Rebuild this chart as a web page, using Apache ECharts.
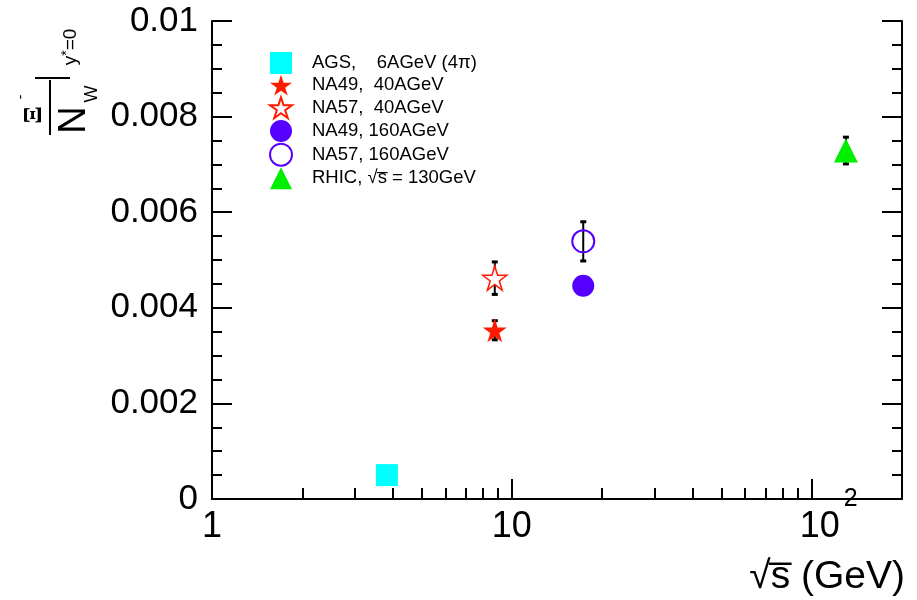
<!DOCTYPE html>
<html>
<head>
<meta charset="utf-8">
<script src="https://cdn.jsdelivr.net/npm/echarts@6/dist/echarts.min.js"></script>
<style>html,body{margin:0;padding:0;background:#fff}#c{width:917px;height:600px}</style>
</head>
<body>
<div id="c"></div>
<script>
// ---- data ----
const seriesNames = ['AGS,    6AGeV (4\u03C0)', 'NA49,  40AGeV', 'NA57,  40AGeV', 'NA49, 160AGeV', 'NA57, 160AGeV', 'RHIC, \u221As\u0305 = 130GeV'];
const sqrtS    = [3.83, 8.77, 8.77, 17.3, 17.3, 130];
const ratio    = [0.0005, 0.00353, 0.00462, 0.00446, 0.00539, 0.00729];
const ratioErr = [0, 0.0002, 0.00034, 0, 0.00041, 0.00028];
const xMajorTicks = [1, 10, 100];
const xMinorTicks = [2, 3, 4, 5, 6, 7, 8, 9, 20, 30, 40, 50, 60, 70, 80, 90, 200];
const yTicks = [0, 0.002, 0.004, 0.006, 0.008, 0.01];

// ---- styles ----
const STAR = 'path://M100,0L122.45,69.1L195.1,69.1L136.3,111.8L158.8,180.9L100,138.2L41.2,180.9L63.7,111.8L4.9,69.1L77.55,69.1Z';
const styles = [
  {symbol: 'rect', size: 22, item: {color: '#00ffff'}},
  {symbol: STAR, size: 24, item: {color: '#ff1a00'}},
  {symbol: STAR, size: 24, item: {color: '#ffffff', borderColor: '#ff1a00', borderWidth: 1.5}},
  {symbol: 'circle', size: 22, item: {color: '#5500ff'}},
  {symbol: 'circle', size: 22, item: {color: 'rgba(255,255,255,0)', borderColor: '#5500ff', borderWidth: 2}},
  {symbol: 'triangle', size: 24, item: {color: '#00ee00'}}
];
const FONT = 'Liberation Sans';

const chart = echarts.init(document.getElementById('c'));

const scatterSeries = seriesNames.map((n, i) => ({
  name: n, type: 'scatter', xAxisIndex: 0, yAxisIndex: 0,
  symbol: styles[i].symbol, symbolSize: styles[i].size,
  itemStyle: Object.assign({opacity: 1}, styles[i].item),
  data: [[sqrtS[i], ratio[i]]], z: 3
}));

const errData = [];
sqrtS.forEach((x, i) => { if (ratioErr[i] > 0) errData.push([x, ratio[i], ratioErr[i]]); });

const errSeries = {
  type: 'custom', xAxisIndex: 0, yAxisIndex: 0, z: 2,
  data: errData,
  renderItem: function (params, api) {
    const x = api.value(0), y = api.value(1), e = api.value(2);
    const hi = api.coord([x, y + e]), lo = api.coord([x, y - e]);
    const st = {stroke: '#000', lineWidth: 2};
    return {type: 'group', children: [
      {type: 'line', shape: {x1: hi[0], y1: hi[1], x2: lo[0], y2: lo[1]}, style: st},
      {type: 'line', shape: {x1: hi[0] - 3, y1: hi[1], x2: hi[0] + 3, y2: hi[1]}, style: {stroke: '#000', lineWidth: 3}},
      {type: 'line', shape: {x1: lo[0] - 3, y1: lo[1], x2: lo[0] + 3, y2: lo[1]}, style: {stroke: '#000', lineWidth: 3}}
    ]};
  }
};

const lineSt = {color: '#000', width: 2};
const option = {
  animation: false,
  backgroundColor: '#fff',
  grid: {left: 212, right: 15, top: 21, bottom: 101, containLabel: false},
  legend: {
    data: seriesNames, orient: 'vertical', left: 264, top: 47,
    itemWidth: 22, itemHeight: 22, itemGap: 0.7,
    textStyle: {fontFamily: FONT, fontSize: 18.5, color: '#000', padding: [0, 0, 0, 15]},
    selectedMode: false
  },
  xAxis: [
    {type: 'log', logBase: 10, min: 1, max: 200, position: 'bottom',
     axisLine: {show: true, lineStyle: lineSt, onZero: false},
     axisTick: {show: true, inside: true, length: 20, lineStyle: lineSt, customValues: xMajorTicks},
     axisLabel: {show: true, customValues: xMajorTicks, margin: -12, color: '#000', fontFamily: FONT, fontSize: 36,
       formatter: function (v) { return v >= 100 ? '{c|10}{s|2}' : '{b|' + v + '}'; },
       rich: {b: {fontFamily: FONT, fontSize: 36, color: '#000', verticalAlign: 'bottom', padding: [22, 0, 0, 0]},
              c: {fontFamily: FONT, fontSize: 36, color: '#000', verticalAlign: 'bottom', padding: [22, 0, 0, 34]},
              s: {fontFamily: FONT, fontSize: 25, color: '#000', verticalAlign: 'top', padding: [0, 0, 0, 4]}}},
     splitLine: {show: false}},
    {type: 'log', logBase: 10, min: 1, max: 200, position: 'bottom',
     axisLine: {show: false},
     axisTick: {show: true, inside: true, length: 11, lineStyle: lineSt, customValues: xMinorTicks},
     axisLabel: {show: false}, splitLine: {show: false}}
  ],
  yAxis: [
    {type: 'value', min: 0, max: 0.01, interval: 0.002, position: 'left',
     axisLine: {show: true, lineStyle: lineSt, onZero: false},
     axisTick: {show: true, inside: true, length: 20, lineStyle: lineSt},
     minorTick: {show: true, splitNumber: 4, length: 10, lineStyle: lineSt},
     axisLabel: {margin: 14, color: '#000', fontFamily: FONT, fontSize: 35,
       customValues: yTicks,
       formatter: function (v) { return v === 0 ? '0' : String(Number(v.toFixed(4))); }},
     splitLine: {show: false}},
    {type: 'value', min: 0, max: 0.01, interval: 0.002, position: 'right',
     axisLine: {show: true, lineStyle: lineSt, onZero: false},
     axisTick: {show: true, inside: true, length: 20, lineStyle: lineSt},
     minorTick: {show: true, splitNumber: 4, length: 10, lineStyle: lineSt},
     axisLabel: {show: false}, splitLine: {show: false}}
  ],
  graphic: [
    // y-axis title (rotated)
    {type: 'text', x: 34, y: 115, rotation: Math.PI / 2, style: {text: '\u039E', fontFamily: 'Liberation Serif', fontWeight: 'bold', fontSize: 26, fill: '#000', align: 'center', verticalAlign: 'middle'}},
    {type: 'text', x: 21, y: 97, rotation: Math.PI / 2, style: {text: '-', fontFamily: FONT, fontSize: 14, fill: '#000', align: 'center', verticalAlign: 'middle'}},
    {type: 'line', shape: {x1: 50, y1: 80, x2: 50, y2: 135}, style: {stroke: '#000', lineWidth: 2}},
    {type: 'text', x: 75, y: 120, rotation: Math.PI / 2, style: {text: 'N', fontFamily: FONT, fontSize: 38, fill: '#000', align: 'center', verticalAlign: 'middle'}},
    {type: 'text', x: 92, y: 94, rotation: Math.PI / 2, style: {text: 'W', fontFamily: FONT, fontSize: 18, fill: '#000', align: 'center', verticalAlign: 'middle'}},
    {type: 'line', shape: {x1: 35, y1: 78, x2: 70, y2: 78}, style: {stroke: '#000', lineWidth: 2}},
    {type: 'text', x: 71, y: 47, rotation: Math.PI / 2, style: {text: '{a|y}{s|*}{a|=0}', fill: '#000', align: 'center', verticalAlign: 'middle',
      rich: {a: {fontFamily: FONT, fontSize: 19, fill: '#000'}, s: {fontFamily: FONT, fontSize: 14, fill: '#000', verticalAlign: 'bottom', padding: [0, 0, 7, 0]}}}},
    // x-axis title
    {type: 'text', right: 12, top: 558, style: {text: '\u221As\u0305 (GeV)', fontFamily: FONT, fontSize: 39, fill: '#000'}}
  ],
  series: scatterSeries.concat([errSeries])
};
chart.setOption(option);
</script>
</body>
</html>
